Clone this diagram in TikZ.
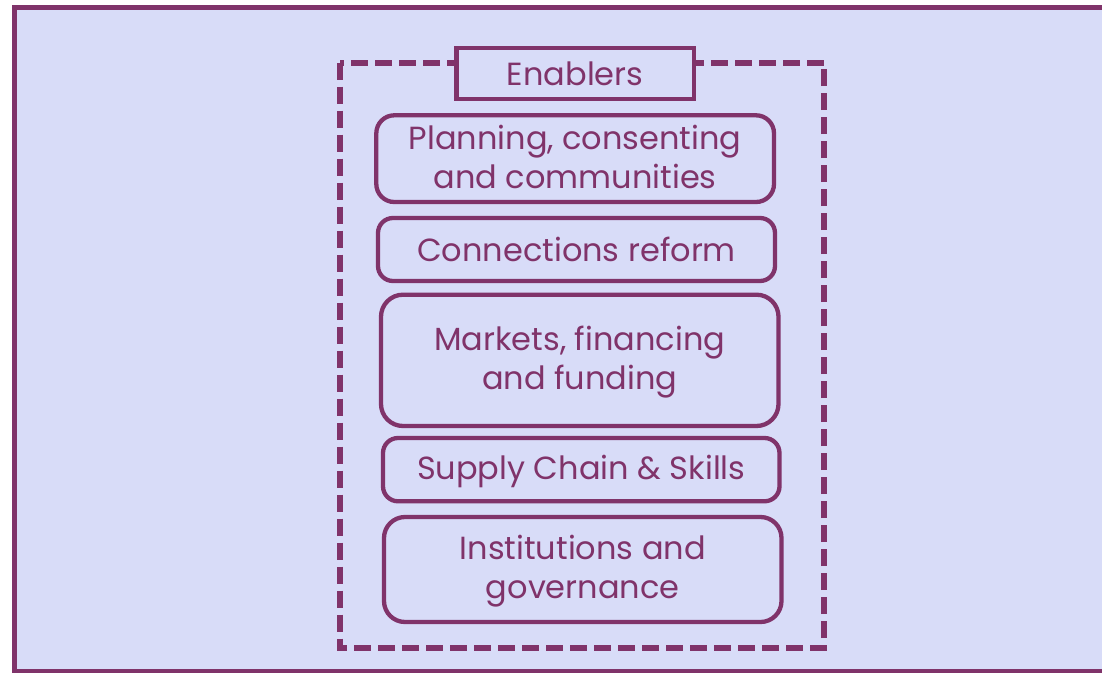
\documentclass[tikz,border=0pt]{standalone}
\usepackage{fontspec}
\setmainfont{Poppins}
\definecolor{pp}{HTML}{80336A}
\definecolor{bg}{HTML}{D8DCF8}
\tikzset{
  enbox/.style={draw=pp, line width=4.3, inner sep=0pt, rounded corners=#1},
  label/.style={text=pp, align=center, inner sep=0pt,
    font=\fontsize{32}{38.8}\selectfont},
  titlebox/.style={draw=pp, line width=4.3, fill=bg, text=pp, inner sep=0pt,
    font=\fontsize{32}{38.8}\selectfont},
}
\begin{document}
\begin{tikzpicture}[x=1pt,y=-1pt]
\useasboundingbox (0,0) rectangle (1102,672);
\fill[white] (0,0) rectangle (1102,672);
\draw[pp, line width=4.5, fill=bg] (14.3,7.7) rectangle (1112,671.5);
\draw[pp, line width=6, dash pattern=on 17pt off 7pt] (339.5,62.5) rectangle (824,648);
\node[titlebox, minimum width=237.7, minimum height=51.3] (en) at (575.2,73.6) {Enablers};
\node[enbox=18, minimum width=397.7, minimum height=86.7] (plan) at (575.15,158.65) {};
\node[label] (plant) at ([yshift=1.5pt]plan.center) {Planning, consenting\\and communities};
\node[enbox=15, minimum width=397, minimum height=63] (conn) at (576.5,249.5) {};
\node[label] (connt) at (conn.center) {Connections reform};
\node[enbox=22, minimum width=397.5, minimum height=131.3] (mark) at (579.75,360.35) {};
\node[label] (markt) at ([yshift=-2pt]mark.center) {Markets, financing\\and funding};
\node[enbox=15, minimum width=396.5, minimum height=63.3] (supp) at (581.25,469.65) {};
\node[label] (suppt) at ([yshift=-2pt]supp.center) {Supply Chain \& Skills};
\node[enbox=21, minimum width=397.5, minimum height=105] (inst) at (582.75,569.5) {};
\node[label] (instt) at ([yshift=-2pt]inst.center) {Institutions and\\governance};
\end{tikzpicture}
\end{document}
